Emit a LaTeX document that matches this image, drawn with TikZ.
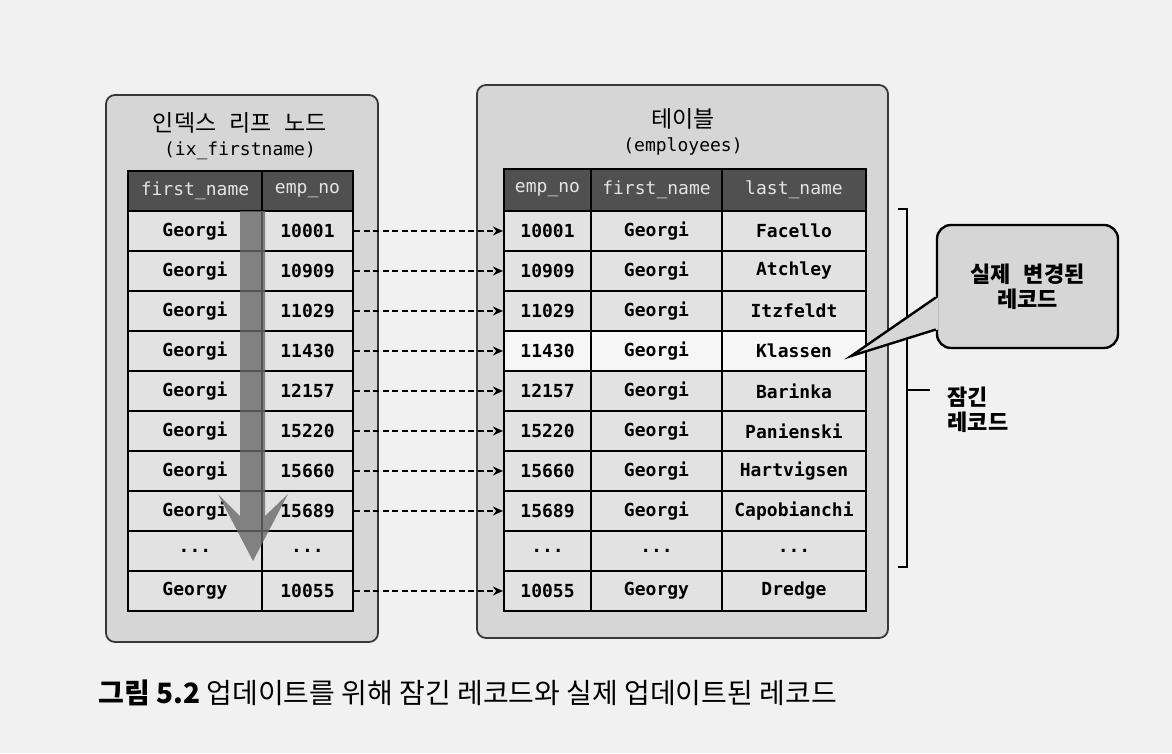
\documentclass[tikz,border=0pt]{standalone}
\usepackage{fontspec}
\setmonofont{DejaVu Sans Mono}
\newfontfamily\kofont{Noto Sans CJK KR}
\usetikzlibrary{arrows.meta}
\definecolor{pagebg}{RGB}{241,241,241}
\definecolor{boxbg}{RGB}{214,214,214}
\definecolor{cellbg}{RGB}{226,226,226}
\definecolor{hotbg}{RGB}{246,246,246}
\definecolor{headbg}{RGB}{80,80,80}
\definecolor{headfg}{RGB}{228,228,228}
\definecolor{scanbg}{RGB}{105,105,105}
\newcommand{\dotsrow}{...}
\newcommand{\wsp}{\hspace{13pt}}
\newcommand{\Link}[1]{\draw [link] (L#1.east) -- (T#1.west);}

\begin{document}
\begin{tikzpicture}
[x=1pt,y=-1pt,
 cell/.style={draw,line width=2.2pt,fill=cellbg,inner sep=0pt,minimum height=40pt,
   font=\fontsize{18}{20}\selectfont\ttfamily\bfseries},
 head/.style={cell,fill=headbg,text=headfg,font=\fontsize{18}{20}\selectfont\ttfamily},
 panel/.style={draw=black!78,line width=1.8pt,fill=boxbg,rounded corners=9pt},
 title/.style={font=\kofont\fontsize{23}{26}\selectfont},
 subtitle/.style={font=\fontsize{18}{20}\selectfont\ttfamily},
 link/.style={-{Stealth[length=10pt,width=9pt]},line width=1.4pt,dash pattern=on 6pt off 3.5pt},
 note/.style={draw,line width=2.4pt,fill=boxbg,rounded corners=14pt,minimum width=181pt,
   minimum height=123pt,align=center,font=\kofont\bfseries\fontsize{22}{25}\selectfont},
 brace/.style={line width=2.6pt},]

\fill [pagebg] (0,0) rectangle (1172,753);
\useasboundingbox (0,0) rectangle (1172,753);

% index leaf node
\draw [panel] (106,95) rectangle (378,642);
\node [title] at (240,123) (ixtitle) {인덱스\wsp 리프\wsp 노드};
\node [subtitle] at (240,151) (ixname) {(ix\_firstname)};
\node [head,minimum width=134pt] at (195,191) (FH) {first\_name};
\node [head,minimum width=91pt] at (307.5,191) (LH) {emp\_no};
\foreach \n/\e [count=\i] in {Georgi/10001,Georgi/10909,Georgi/11029,Georgi/11430,
    Georgi/12157,Georgi/15220,Georgi/15660,Georgi/15689,\dotsrow/\dotsrow,Georgy/10055}
{
  \node [cell,minimum width=134pt] at (195,191+40*\i) (F\i) {\n};
  \node [cell,minimum width=91pt] at (307.5,191+40*\i) (L\i) {\e};
}
% scan direction
\fill [scanbg,opacity=.8] (240,211) -- (240,516) -- (218,494) -- (253,561)
  -- (288,494) -- (265,516) -- (265,211) -- cycle;

% table
\draw [panel] (477,85) rectangle (888,638);
\node [title] at (683,119) (tbtitle) {테이블};
\node [subtitle] at (683,146) (tbname) {(employees)};
\node [head,minimum width=87pt,minimum height=42pt] at (547.5,190) (TH) {emp\_no};
\node [head,minimum width=131pt,minimum height=42pt] at (656.5,190) (GH) {first\_name};
\node [head,minimum width=144pt,minimum height=42pt] at (794,190) (NH) {last\_name};
\foreach \e/\n/\s [count=\i] in {10001/Georgi/Facello,10909/Georgi/Atchley,
    11029/Georgi/Itzfeldt,11430/Georgi/Klassen,12157/Georgi/Barinka,
    15220/Georgi/Panienski,15660/Georgi/Hartvigsen,15689/Georgi/Capobianchi,
    \dotsrow/\dotsrow/\dotsrow,10055/Georgy/Dredge}
{
  \ifnum\i=4 \def\rowfill{hotbg}\else\def\rowfill{cellbg}\fi
  \node [cell,fill=\rowfill,minimum width=87pt] at (547.5,191+40*\i) (T\i) {\e};
  \node [cell,fill=\rowfill,minimum width=131pt] at (656.5,191+40*\i) (G\i) {\n};
  \node [cell,fill=\rowfill,minimum width=144pt] at (794,191+40*\i) (N\i) {\s};
}

\foreach \i in {1,...,8,10} {\Link\i}

% locked range
\draw [brace] (898,209) -- (907,209) -- (907,567) -- (898,567);
\draw [brace] (907,390) -- (930,390);
\node [anchor=west,align=left,font=\kofont\bfseries\fontsize{22}{25}\selectfont]
  at (944,410) (locked) {잠긴\\레코드};

% changed record
\coordinate (tip) at ([xshift=-16pt,yshift=-5pt]N4.east);
\node [note] at (1027.5,286.5) (note) {실제\wsp 변경된\\레코드};
\fill [boxbg] ([xshift=2pt,yshift=-11pt]note.west) -- (tip)
  -- ([xshift=2pt,yshift=-43pt]note.west) -- cycle;
\draw [line width=2.4pt] ([yshift=-11pt]note.west) -- (tip) -- ([yshift=-43pt]note.west);

\node [anchor=west,font=\kofont\fontsize{28}{32}\selectfont] at (95,693) (caption)
  {\textbf{그림 5.2} 업데이트를 위해 잠긴 레코드와 실제 업데이트된 레코드};
\end{tikzpicture}
\end{document}
